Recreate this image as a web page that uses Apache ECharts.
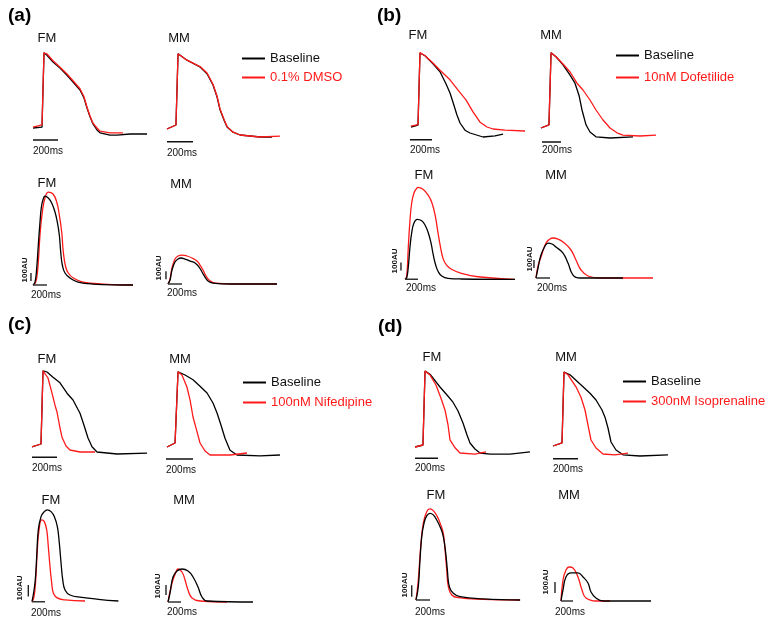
<!DOCTYPE html>
<html><head><meta charset="utf-8">
<script src="https://cdn.jsdelivr.net/npm/echarts@6/dist/echarts.min.js"></script>
<style>html,body{margin:0;padding:0;background:#fff}#c{width:766px;height:624px}</style>
</head><body><div id="c"></div>
<script>
// ---------- DATA (time in ms, AP in mV, Ca in AU) ----------
const quadrantLabels = ['(a)', '(b)', '(c)', '(d)'];
const baselineName = 'Baseline';
const drugNames = ['0.1% DMSO', '10nM Dofetilide', '100nM Nifedipine', '300nM Isoprenaline'];
const cellTypes = ['FM', 'MM'];
const timeBarMs = 200;
const caBarAU = 100;
const timeBarLabel = '200ms';
const caBarLabel = '100AU';

// (a) action potentials
const aFM_AP_base = [[-80,-80],[-8,-79],[0,-77.5],[8,14],[32,11],[80,2.5],[136,-5],[192,-14],[240,-22.5],[296,-32.5],[328,-42.5],[352,-55],[376,-66],[400,-75],[432,-82.5],[456,-86],[536,-89],[592,-89],[696,-87.5],[832,-87.5]];
const aFM_AP_drug = [[-80,-79],[-8,-76],[0,-76],[8,14],[32,12.5],[80,4],[136,-4],[192,-12.5],[240,-21],[296,-31],[328,-41],[352,-54],[376,-65],[400,-74],[432,-80],[456,-84],[536,-86],[640,-86]];
const aMM_AP_base = [[-77,-80],[-8,-75],[0,-74],[8,14],[77,6],[177,-2.5],[231,-11],[277,-25],[308,-40],[331,-56],[362,-69],[385,-77.5],[431,-84],[485,-87.5],[638,-90],[731,-90]];
const aMM_AP_drug = [[-77,-80],[-8,-75],[0,-74],[8,14],[77,6],[177,-2],[231,-10],[277,-24],[308,-39],[331,-55],[362,-68],[385,-77],[431,-84],[485,-87.5],[638,-90],[792,-89]];
// (b)
const bFM_AP_base = [[-73,-80],[-9,-77.5],[0,-77],[9,12.5],[55,9],[127,-1],[191,-11],[245,-26],[282,-37.5],[309,-49],[345,-65],[373,-75],[418,-84],[464,-87.5],[582,-92.5],[691,-91],[764,-89]];
const bFM_AP_drug = [[-73,-79],[-9,-77],[0,-77],[9,13],[55,9],[127,0],[191,-9],[282,-21],[355,-34],[427,-46],[491,-61],[555,-74],[618,-80],[673,-82.5],[782,-84],[964,-85]];
const bMM_AP_base = [[-95,-80],[-11,-76],[0,-76],[11,14],[63,9],[137,-1],[211,-14],[263,-24],[305,-39],[337,-57.5],[379,-76],[421,-85],[484,-91],[632,-92.5],[874,-91]];
const bMM_AP_drug = [[-95,-80],[-11,-76],[0,-76],[11,14],[63,9],[137,0],[211,-10],[284,-24],[347,-32.5],[421,-45],[484,-57.5],[558,-70],[632,-80],[705,-86],[768,-89],[947,-90],[1116,-89]];
// (c)
const cFM_AP_base = [[-80,-81],[-8,-77.5],[0,-77],[8,14],[40,12.5],[88,6],[144,-1],[200,-14],[248,-22.5],[304,-39],[336,-54],[368,-70],[400,-81],[440,-87.5],[600,-90],[840,-89]];
const cFM_AP_drug = [[-80,-81],[-8,-77.5],[0,-77],[8,14],[24,12.5],[48,5],[80,-14],[104,-29],[120,-37.5],[144,-57.5],[160,-69],[192,-80],[224,-85],[304,-87.5],[424,-87.5]];
const cMM_AP_base = [[-67,-80],[-7,-75],[0,-74],[15,14],[67,10],[126,4],[178,-4],[230,-12.5],[274,-25],[304,-37.5],[333,-52.5],[363,-69],[400,-84],[452,-90],[622,-91],[770,-90]];
const cMM_AP_drug = [[-67,-80],[-7,-75],[0,-74],[15,14],[44,10],[81,-5],[104,-21],[126,-42.5],[156,-61],[178,-75],[215,-85],[252,-90],[400,-90],[526,-87.5]];
// (d)
const dFM_AP_base = [[-78,-80],[-9,-77.5],[0,-77],[9,15],[52,11],[139,-5],[200,-15],[252,-24],[296,-35],[339,-50],[374,-65],[400,-75],[443,-82.5],[487,-87.5],[574,-89],[748,-89],[922,-86]];
const dFM_AP_drug = [[-78,-80],[-9,-77.5],[0,-77],[9,15],[52,10],[104,-2.5],[148,-19],[183,-34],[209,-52.5],[226,-71],[270,-81],[313,-87.5],[443,-89],[539,-86]];
const dMM_AP_base = [[-80,-80],[-8,-76],[0,-75],[8,12.5],[56,9],[160,-6],[216,-14],[264,-22.5],[312,-35],[336,-44],[360,-57.5],[384,-75],[424,-85],[480,-91],[616,-92.5],[840,-91]];
const dMM_AP_drug = [[-80,-80],[-8,-76],[0,-75],[8,12.5],[40,9],[104,-6],[144,-19],[176,-35],[200,-54],[224,-72.5],[264,-82.5],[320,-90],[416,-91],[520,-89]];

// calcium transients
const aFM_Ca_base = [[0,0],[29,37],[53,212],[76,500],[100,787],[124,1000],[157,1100],[171,1112],[219,1087],[267,1025],[314,912],[347,787],[376,625],[396,412],[419,250],[457,150],[529,87],[643,37],[857,12],[1429,0]];
const aFM_Ca_drug = [[0,0],[29,20],[53,87],[76,287],[100,625],[133,912],[171,1087],[219,1162],[286,1137],[339,1037],[376,875],[410,662],[433,412],[467,225],[504,150],[576,87],[714,37],[1000,12],[1429,0]];
const aMM_Ca_base = [[0,0],[29,50],[57,175],[100,275],[143,312],[186,325],[243,312],[314,287],[386,262],[443,212],[486,150],[529,87],[571,37],[643,12],[886,0],[1557,0]];
const aMM_Ca_drug = [[0,0],[29,62],[57,200],[100,312],[143,350],[200,362],[271,350],[343,325],[414,287],[457,237],[500,175],[543,100],[586,50],[671,12],[1029,0],[1557,0]];
const bFM_Ca_base = [[0,0],[26,16],[51,157],[77,407],[103,579],[138,704],[189,750],[257,732],[308,679],[359,579],[400,454],[435,304],[472,179],[512,95],[565,41],[662,12],[872,4],[1692,0]];
const bFM_Ca_drug = [[0,0],[26,41],[51,407],[77,741],[103,954],[138,1079],[180,1137],[200,1150],[277,1125],[354,1054],[415,954],[468,782],[508,579],[545,407],[585,262],[637,179],[714,125],[868,75],[1123,32],[1692,0]];
const bMM_Ca_base = [[0,0],[29,125],[71,287],[129,400],[171,437],[229,425],[286,387],[386,312],[457,187],[529,37],[629,0],[1243,0]];
const bMM_Ca_drug = [[0,0],[29,150],[71,262],[143,437],[200,487],[243,500],[314,487],[386,450],[500,350],[571,225],[643,100],[743,25],[914,0],[1671,0]];
const cFM_Ca_base = [[0,0],[46,163],[72,391],[97,624],[139,740],[189,783],[236,798],[293,783],[343,740],[390,652],[420,511],[447,337],[473,189],[508,102],[585,58],[765,38],[1021,21],[1329,6]];
const cFM_Ca_drug = [[0,0],[30,40],[57,189],[82,450],[108,624],[149,711],[189,696],[226,624],[251,479],[277,305],[303,163],[328,76],[380,35],[508,15],[816,6]];
const cMM_Ca_base = [[0,0],[31,90],[77,250],[138,310],[215,330],[308,310],[385,250],[462,150],[523,50],[600,10],[1308,0]];
const cMM_Ca_drug = [[0,0],[62,190],[123,300],[154,330],[215,300],[262,220],[308,120],[369,40],[492,10],[908,0]];
const dFM_Ca_base = [[0,0],[33,116],[57,348],[82,551],[114,667],[153,731],[200,754],[247,740],[296,696],[353,624],[390,551],[425,406],[448,261],[476,116],[533,58],[629,29],[962,9],[1487,0]];
const dFM_Ca_drug = [[0,0],[33,174],[67,464],[104,667],[153,768],[200,792],[247,777],[305,725],[353,653],[390,580],[415,435],[439,261],[462,116],[511,44],[605,20],[962,6],[1487,0]];
const dMM_Ca_base = [[0,0],[33,100],[83,218],[167,255],[283,255],[367,218],[450,164],[500,82],[583,27],[700,0],[1500,0]];
const dMM_Ca_drug = [[0,0],[33,191],[83,282],[133,309],[200,300],[283,218],[350,100],[417,27],[583,0],[817,0]];

// ---------- LAYOUT ----------
// ox,oy: pixel of (t=0, resting level); sx: px per ms; sy: px per mV / AU
// hbar: [t start, level] of 200 ms bar; vbar: [t, start level] of 100 AU bar
const panels = [
  {q:0, cell:0, kind:'AP', ox:43,  oy:128, sx:0.125, sy:0.8, base:aFM_AP_base, drug:aFM_AP_drug, hbar:[-80,-95], lab:[47,38],  tl:[33,151]},
  {q:0, cell:1, kind:'AP', ox:177, oy:129, sx:0.13,  sy:0.8, base:aMM_AP_base, drug:aMM_AP_drug, hbar:[-77,-96], lab:[179,38], tl:[167,153]},
  {q:0, cell:0, kind:'Ca', ox:33,  oy:285, sx:0.07,  sy:0.08, base:aFM_Ca_base, drug:aFM_Ca_drug, hbar:[0,0], vbar:[-29,50],  lab:[47,183],  tl:[31,295],  al:[25,270]},
  {q:0, cell:1, kind:'Ca', ox:168, oy:284, sx:0.07,  sy:0.08, base:aMM_Ca_base, drug:aMM_Ca_drug, hbar:[0,0], vbar:[-29,60],  lab:[181,184], tl:[167,293], al:[159,268]},

  {q:1, cell:0, kind:'AP', ox:419, oy:127, sx:0.11,  sy:0.8, base:bFM_AP_base, drug:bFM_AP_drug, hbar:[-82,-96], lab:[418,35], tl:[410,150]},
  {q:1, cell:1, kind:'AP', ox:550, oy:128, sx:0.095, sy:0.8, base:bMM_AP_base, drug:bMM_AP_drug, hbar:[-84,-97.5], lab:[551,35], tl:[542,150]},
  {q:1, cell:0, kind:'Ca', ox:405, oy:279.3, sx:0.065, sy:0.08, base:bFM_Ca_base, drug:bFM_Ca_drug, hbar:[0,0], vbar:[-62,110], lab:[424,175], tl:[406,288], al:[395,261]},
  {q:1, cell:1, kind:'Ca', ox:536, oy:278, sx:0.07,  sy:0.08, base:bMM_Ca_base, drug:bMM_Ca_drug, hbar:[0,0], vbar:[-29,125], lab:[556,175], tl:[537,288], al:[530,259]},

  {q:2, cell:0, kind:'AP', ox:42,  oy:446, sx:0.125, sy:0.8, base:cFM_AP_base, drug:cFM_AP_drug, hbar:[-80,-94], lab:[47,359], tl:[32,468]},
  {q:2, cell:1, kind:'AP', ox:176, oy:447, sx:0.135, sy:0.8, base:cMM_AP_base, drug:cMM_AP_drug, hbar:[-74,-95], lab:[180,359], tl:[166,470]},
  {q:2, cell:0, kind:'Ca', ox:32,  oy:601.7, sx:0.065, sy:0.115, base:cFM_Ca_base, drug:cFM_Ca_drug, hbar:[0,0], vbar:[-57,45],  lab:[51,500],  tl:[31,613],  al:[20,588]},
  {q:2, cell:1, kind:'Ca', ox:168, oy:602, sx:0.065, sy:0.10, base:cMM_Ca_base, drug:cMM_Ca_drug, hbar:[0,0], vbar:[-31,70],  lab:[184,500], tl:[167,612], al:[158,586]},

  {q:3, cell:0, kind:'AP', ox:424, oy:447, sx:0.115, sy:0.8, base:dFM_AP_base, drug:dFM_AP_drug, hbar:[-78,-94], lab:[432,357], tl:[415,468]},
  {q:3, cell:1, kind:'AP', ox:563, oy:446, sx:0.125, sy:0.8, base:dMM_AP_base, drug:dMM_AP_drug, hbar:[-80,-96], lab:[566,357], tl:[553,469]},
  {q:3, cell:0, kind:'Ca', ox:416, oy:600, sx:0.07,  sy:0.115, base:dFM_Ca_base, drug:dFM_Ca_drug, hbar:[0,0], vbar:[-61,29],  lab:[436,495], tl:[415,612], al:[405,585]},
  {q:3, cell:1, kind:'Ca', ox:561, oy:601, sx:0.06,  sy:0.11, base:dMM_Ca_base, drug:dMM_Ca_drug, hbar:[0,0], vbar:[-100,73], lab:[569,495], tl:[555,612], al:[546,582]}
];
const quadLabelPos = [[8,16],[377,16],[8,325],[378,327]];
const legendPos = [[242,52,6],[616,49,9],[243,376,7],[623,375,7]];

const FONT = '"Liberation Sans", Arial, sans-serif';
const RED = '#ff1a1a';

const grids = [], xAxes = [], yAxes = [], series = [], graphics = [];
panels.forEach((p, i) => {
  const v0 = p.kind === 'AP' ? -80 : 0;
  const xmin = -150, xmax = p.kind === 'AP' ? 1250 : 1800;
  const ymin = p.kind === 'AP' ? -110 : -50, ymax = p.kind === 'AP' ? 30 : 1300;
  grids.push({left: p.ox + xmin * p.sx, width: (xmax - xmin) * p.sx,
              top: p.oy - (ymax - v0) * p.sy, height: (ymax - ymin) * p.sy});
  xAxes.push({type:'value', gridIndex:i, min:xmin, max:xmax, show:false});
  yAxes.push({type:'value', gridIndex:i, min:ymin, max:ymax, show:false});
  const isCa = p.kind === 'Ca';
  const lw = 1.3;
  const common = {type:'line', xAxisIndex:i, yAxisIndex:i, showSymbol:false, symbol:'none', silent:true,
                  smooth: isCa ? 0.45 : false};
  series.push(Object.assign({}, common, {name:baselineName, data:p.base,
               lineStyle:{color:'#000', width:lw}, itemStyle:{color:'#000'}, z:2}));
  series.push(Object.assign({}, common, {name:drugNames[p.q], data:p.drug,
               lineStyle:{color:RED, width:lw}, itemStyle:{color:RED}, z:isCa?1:3}));
  // 200 ms bar
  series.push({type:'line', xAxisIndex:i, yAxisIndex:i, symbol:'none', silent:true, z:isCa?4:2,
               data:[[p.hbar[0], p.hbar[1]], [p.hbar[0] + timeBarMs, p.hbar[1]]],
               lineStyle:{color: isCa ? '#333' : '#111', width:1.5}});
  if (p.vbar) {
    series.push({type:'line', xAxisIndex:i, yAxisIndex:i, symbol:'none', silent:true,
                 data:[[p.vbar[0], p.vbar[1]], [p.vbar[0], p.vbar[1] + caBarAU]],
                 lineStyle:{color:'#111', width:1.3}});
    graphics.push({type:'text', x:p.al[0], y:p.al[1], rotation:Math.PI/2,
                   style:{text:caBarLabel, font:'bold 8px ' + FONT, fill:'#111', align:'center', verticalAlign:'middle', textAlign:'center', textVerticalAlign:'middle'}});
  }
  graphics.push({type:'text', x:p.lab[0], y:p.lab[1],
                 style:{text:cellTypes[p.cell], font:'13px ' + FONT, fill:'#111', align:'center', verticalAlign:'middle', textAlign:'center', textVerticalAlign:'middle'}});
  graphics.push({type:'text', x:p.tl[0], y:p.tl[1],
                 style:{text:timeBarLabel, font:'10px ' + FONT, fill:'#111', align:'left', verticalAlign:'middle', textAlign:'left', textVerticalAlign:'middle'}});
});
quadrantLabels.forEach((t, q) => {
  graphics.push({type:'text', x:quadLabelPos[q][0], y:quadLabelPos[q][1],
                 style:{text:t, font:'bold 19px ' + FONT, fill:'#000', align:'left', verticalAlign:'middle', textAlign:'left', textVerticalAlign:'middle'}});
});
const legends = drugNames.map((d, q) => ({
  orient:'vertical', left:legendPos[q][0], top:legendPos[q][1], itemGap:legendPos[q][2], padding:0,
  itemWidth:23, itemHeight:2, icon:'rect', selectedMode:false,
  textStyle:{fontSize:13, fontFamily:FONT},
  data:[{name:baselineName, textStyle:{color:'#111'}}, {name:d, textStyle:{color:RED}}]
}));

const chart = echarts.init(document.getElementById('c'), null, {renderer:'canvas'});
chart.setOption({
  animation:false,
  backgroundColor:'#fff',
  legend:legends,
  grid:grids, xAxis:xAxes, yAxis:yAxes, series:series,
  graphic:graphics
});
</script>
</body></html>
